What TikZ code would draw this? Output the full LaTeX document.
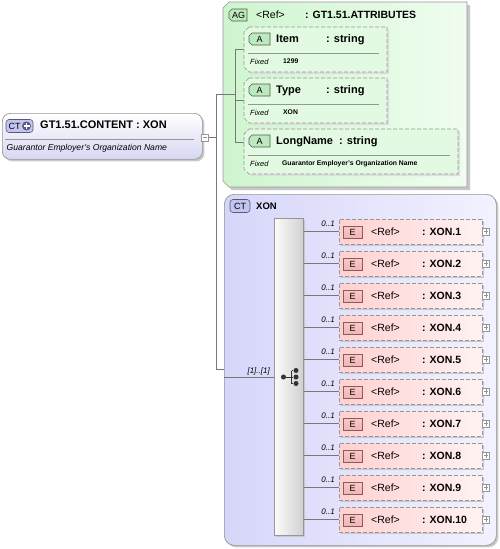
\documentclass[tikz,border=0pt]{standalone}
\usepackage{fontspec}
\setmainfont{Liberation Sans}
\usetikzlibrary{shadows}
\definecolor{bord}{RGB}{150,150,150}
\definecolor{conncol}{RGB}{120,120,120}
\definecolor{rootbot}{RGB}{214,214,242}
\definecolor{agl}{RGB}{206,245,206}
\definecolor{agr}{RGB}{240,253,240}
\definecolor{xonl}{RGB}{214,214,250}
\definecolor{xonr}{RGB}{242,242,255}
\definecolor{eleml}{RGB}{255,208,208}
\definecolor{elemr}{RGB}{255,242,242}
\definecolor{seql}{RGB}{252,252,252}
\definecolor{seqr}{RGB}{208,208,208}
\definecolor{ctfill}{RGB}{196,196,240}
\definecolor{ctdraw}{RGB}{90,90,120}
\definecolor{agfill}{RGB}{190,232,190}
\definecolor{agdraw}{RGB}{70,100,70}
\definecolor{efill}{RGB}{242,180,180}
\definecolor{edraw}{RGB}{140,90,90}
\definecolor{shad}{RGB}{200,200,200}
\newcommand\mychbox[6]{% x1 y1 x2 y2 chamfer style
  \path[#6] (#1+#5,#2) -- (#3,#2) -- (#3,#4) -- (#1+#5,#4) -- (#1,#4-#5) -- (#1,#2+#5) -- cycle;}
\tikzset{
  conn/.style={draw=conncol, line width=0.6pt},
  sh/.style={drop shadow={shadow xshift=2pt, shadow yshift=-2pt, fill=shad, opacity=1}},
  txt/.style={inner sep=0pt, anchor=base west, text=black},
  rtxt/.style={inner sep=0pt, anchor=base east, text=black},
  holder/.style={inner sep=0pt, anchor=north west},
  badge/.style={inner sep=0pt, draw, line width=0.6pt, font=\fontsize{9}{10}\selectfont},
  dashbox/.style={draw=bord, dash pattern=on 4pt off 2pt, line width=0.7pt},
  pbox/.style={draw=bord, fill=white, minimum size=7pt, inner sep=0pt, line width=0.5pt},
  dot/.style={circle, fill=black!80, inner sep=0pt, minimum size=5pt},
}
\begin{document}
\begin{tikzpicture}[x=1pt,y=-1pt]
\useasboundingbox (0,0) rectangle (500,549);

% ---------- root ----------
\node[sh, draw=bord, line width=0.7pt, rounded corners=8pt, top color=white, bottom color=rootbot,
      minimum width=200pt, minimum height=46pt, anchor=north west, inner sep=0pt] (root) at (2,113) {};
\draw[bord, line width=0.6pt] (5,139) -- (194,139);
\node[badge, draw=ctdraw, fill=ctfill, rounded corners=3pt, minimum width=27pt, minimum height=13pt] (rootbadge) at (19.5,126) {};
\node[txt, font=\fontsize{9}{10}\selectfont] (rootct) at (8.5,129.5) {CT};
\node[circle, fill=ctdraw, inner sep=0pt, minimum size=9pt] (rootplus) at (26.5,126) {};
\draw[white, line width=1.3pt] (23.5,126) -- (29.5,126) (26.5,123) -- (26.5,129);
\node[txt, font=\fontsize{11}{13}\selectfont\bfseries] (roottitle) at (40,128.5) {GT1.51.CONTENT : XON};
\node[txt, font=\fontsize{8.6}{10}\selectfont\itshape] (rootdoc) at (6.5,150) {Guarantor Employer's Organization Name};
\node[pbox] (rootmin) at (205,137.5) {};
\draw[bord, line width=0.5pt] (202.8,137.5) -- (207.2,137.5);

% ---------- AG box ----------
\mychbox{226}{5}{470}{190}{6}{fill=shad}
\mychbox{223}{2}{467}{187}{6}{draw=bord, line width=0.7pt, left color=agl, right color=agr}
\node[holder, minimum width=244pt, minimum height=185pt] (ag) at (223,2) {};
\mychbox{229}{9}{247}{21}{3}{draw=agdraw, line width=0.6pt, fill=agfill}
\node[inner sep=0pt, font=\fontsize{9}{10}\selectfont] (agbadge) at (238.5,15.3) {AG};
\node[txt, font=\fontsize{10.5}{12}\selectfont] (agref) at (256,18) {<Ref>};
\node[txt, font=\fontsize{10.5}{12}\selectfont\bfseries] (agtype) at (305,18) {: GT1.51.ATTRIBUTES};

% attribute boxes
\foreach \nm/\top/\w/\val/\vx in {Item/27/143/1299/283, Type/78/143/XON/283, LongName/129/214/Guarantor Employer's Organization Name/282}{
  \mychbox{246}{\top+2}{244+\w+2}{\top+47}{5}{fill=shad!60}
  \mychbox{244}{\top}{244+\w}{\top+45}{5}{dashbox, fill=agr!60!agl}
  \node[holder, minimum width=\w pt, minimum height=45pt] (att\nm) at (244,\top) {};
  \mychbox{249}{\top+6}{270}{\top+18}{3}{draw=agdraw, line width=0.6pt, fill=agfill}
  \node[inner sep=0pt, font=\fontsize{9}{10}\selectfont] (attb\nm) at (259.5,\top+12.3) {A};
  \node[txt, font=\fontsize{11}{13}\selectfont\bfseries] (attn\nm) at (276,\top+15.5) {\nm};
  \draw[bord, line width=0.6pt] (248,\top+26) -- (244+\w-8,\top+26);
  \node[txt, font=\fontsize{7.5}{9}\selectfont\itshape] (attf\nm) at (250,\top+37) {Fixed};
  \node[txt, font=\fontsize{6.8}{8}\selectfont\bfseries] (attv\nm) at (\vx,\top+36.5) {\val};
}
\node[txt, font=\fontsize{11}{13}\selectfont\bfseries] (tItem) at (326,42.5) {: string};
\node[txt, font=\fontsize{11}{13}\selectfont\bfseries] (tType) at (326,93.5) {: string};
\node[txt, font=\fontsize{11}{13}\selectfont\bfseries] (tLong) at (339,144.5) {: string};

% ---------- XON complex type ----------
\node[sh, draw=bord, line width=0.7pt, rounded corners=10pt, left color=xonl, right color=xonr,
      minimum width=272pt, minimum height=351pt, anchor=north west, inner sep=0pt] (xon) at (224,194) {};
\node[badge, draw=ctdraw, fill=ctfill, rounded corners=3pt, minimum width=20pt, minimum height=13pt] (xonbadge) at (240,206) {CT};
\node[txt, font=\fontsize{9.5}{11}\selectfont\bfseries] (xonname) at (256,209.5) {XON};

\node[sh, draw=bord, line width=0.6pt, left color=seql, right color=seqr,
      minimum width=29pt, minimum height=317pt, anchor=north west, inner sep=0pt] (seq) at (274,218) {};
% sequence icon
\node[dot] (sq0) at (283.5,377) {};
\node[dot] (sq1) at (296,370.5) {};
\node[dot] (sq2) at (296,377) {};
\node[dot] (sq3) at (296,383.5) {};
\draw[black!80, line width=1pt] (sq0) -- (291.5,377) (291.5,370.5) -- (291.5,383.5)
  (291.5,370.5) -- (sq1) (291.5,377) -- (sq2) (291.5,383.5) -- (sq3);

% ---------- elements ----------
\foreach \i in {1,...,10}{
  \pgfmathsetmacro\yc{231.5+32*(\i-1)}
  \node[sh, dashbox, left color=eleml, right color=elemr, minimum width=143pt, minimum height=25pt,
        anchor=west, inner sep=0pt] (e\i) at (339,\yc) {};
  \node[badge, draw=edraw, top color=efill!70, bottom color=efill, minimum width=19pt, minimum height=12pt] (eb\i) at (352.5,\yc+0.5) {E};
  \node[txt, font=\fontsize{10.5}{12}\selectfont] (er\i) at (371,\yc+3.8) {<Ref>};
  \node[txt, font=\fontsize{10.5}{12}\selectfont\bfseries] (en\i) at (422,\yc+3.8) {: XON.\i};
  \node[pbox] (ep\i) at (486,\yc) {};
  \draw[bord, line width=0.5pt] (483.8,\yc) -- (488.2,\yc) (486,\yc-2.2) -- (486,\yc+2.2);
  \draw[conn] (seq.east |- e\i.west) -- (e\i.west);
  \node[rtxt, font=\fontsize{8}{9}\selectfont\itshape] (eo\i) at (335,\yc-5) {0..1};
}

% ---------- connectors ----------
\coordinate (bustop) at (216,94);
\coordinate (busbot) at (216,369.5);
\coordinate (agtop) at (235,49.5);
\coordinate (agbot) at (235,142);
\draw[conn] (rootmin.east) -- (rootmin.east -| bustop);
\draw[conn] (bustop) -- (busbot);
\draw[conn] (bustop) -- (bustop -| agtop);
\draw[conn] (agtop) -- (agbot);
\draw[conn] (agtop) -- (agtop -| attItem.west);
\draw[conn] (agtop |- 0,100.5) -- (attType.west |- 0,100.5);
\draw[conn] (agbot) -- (agbot -| attLongName.west);
\draw[conn] (busbot) -- (busbot -| xon.west);
\draw[conn] (xon.west |- seq.west) -- (seq.west);
\node[rtxt, font=\fontsize{8}{9}\selectfont\itshape] (seqocc) at (270,373.5) {[1]..[1]};
\end{tikzpicture}
\end{document}
